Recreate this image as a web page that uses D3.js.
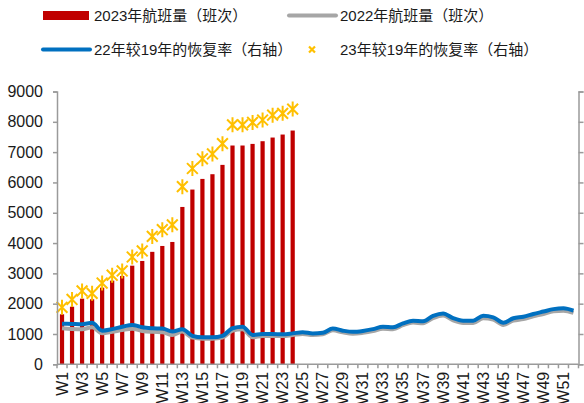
<!DOCTYPE html>
<html>
<head>
<meta charset="utf-8">
<script src="https://cdn.jsdelivr.net/npm/d3@7/dist/d3.min.js"></script>
<style>
	body { margin: 0; background: #fff; }
	svg { display: block; font-family: "Liberation Sans", Arial, "Noto Sans CJK SC", sans-serif; }
</style>
</head>
<body>
<svg id="chart" width="584" height="403"></svg>
<script>
// week labels W1..W52
var weeks = ["W1","W2","W3","W4","W5","W6","W7","W8","W9","W10","W11","W12","W13","W14","W15","W16","W17","W18","W19","W20",
	"W21","W22","W23","W24","W25","W26","W27","W28","W29","W30","W31","W32","W33","W34","W35","W36","W37","W38","W39","W40",
	"W41","W42","W43","W44","W45","W46","W47","W48","W49","W50","W51","W52"];

// 2023年航班量（班次）, W1..W24
var flights2023 = [1650, 1900, 2165, 2145, 2528, 2760, 2914, 3254, 3409, 3710, 3904, 4036, 5191, 5765, 6116, 6271,
	6579, 7218, 7218, 7271, 7360, 7481, 7580, 7712];

// 2022年航班量（班次）, W1..W52
var flights2022 = [1188, 1165, 1155, 1221, 1023, 1070, 1130, 1175, 1100, 1070, 1060, 967, 1080, 879, 846, 846,
	880, 1110, 1160, 891, 934, 934, 934, 967, 1000, 967, 990, 1120, 1055, 1010, 1040, 1095, 1175, 1160, 1290, 1375,
	1355, 1525, 1610, 1450, 1365, 1365, 1520, 1475, 1300, 1440, 1495, 1585, 1660, 1750, 1770, 1695];

// 22年较19年的恢复率（右轴, %）, W1..W52
var recovery22 = [6.7, 6.65, 6.6, 6.85, 5.55, 5.8, 6.2, 6.5, 6.1, 5.95, 5.9, 5.4, 5.8, 4.7, 4.45, 4.45,
	4.7, 5.95, 6.2, 4.85, 5.0, 5.0, 4.95, 5.1, 5.3, 5.1, 5.2, 5.9, 5.55, 5.35, 5.5, 5.8, 6.2, 6.1, 6.75, 7.2,
	7.1, 8.0, 8.4, 7.6, 7.2, 7.2, 8.0, 7.75, 6.85, 7.6, 7.85, 8.3, 8.7, 9.1, 9.25, 8.85];

// 23年较19年的恢复率（右轴, %）, W1..W24
var recovery23 = [9.4, 10.7, 12.1, 11.7, 13.4, 14.7, 15.4, 17.7, 18.7, 21.1, 22.2, 23.0, 29.3, 32.3, 33.9, 34.7,
	36.4, 39.5, 39.5, 39.9, 40.3, 41.1, 41.4, 42.1];

var leftTicks = [0, 1000, 2000, 3000, 4000, 5000, 6000, 7000, 8000, 9000];
var rightTicks = [0, 5, 10, 15, 20, 25, 30, 35, 40, 45];

var legendItems = [
	{name: "2023年航班量（班次）", type: "bar"},
	{name: "2022年航班量（班次）", type: "gray"},
	{name: "22年较19年的恢复率（右轴）", type: "blue"},
	{name: "23年较19年的恢复率（右轴）", type: "star"}
];

var colors = {bar: "#C00000", gray: "#A6A6A6", blue: "#0070C0", star: "#FFC000", axis: "#9a9a9a", text: "#1a1a1a"};

var svg = d3.select("#chart");
var plot = {left: 57, right: 578.5, top: 91.5, bottom: 364.3};

var x = d3.scaleBand().domain(weeks).range([plot.left, plot.right]).paddingInner(0).paddingOuter(0);
var yL = d3.scaleLinear().domain([0, 9000]).range([plot.bottom, plot.top]);
var yR = d3.scaleLinear().domain([0, 45]).range([plot.bottom, plot.top]);

/**
 * draws an asterisk marker (x plus vertical bar) centred on cx, cy
 */
function starPath(cx, cy, r) {
	var d = r * 0.72;
	return "M" + (cx - d) + "," + (cy - d) + "L" + (cx + d) + "," + (cy + d)
		+ "M" + (cx - d) + "," + (cy + d) + "L" + (cx + d) + "," + (cy - d)
		+ "M" + cx + "," + (cy - r) + "L" + cx + "," + (cy + r);
}

// small x, used for the legend
function crossPath(cx, cy, r) {
	return "M" + (cx - r) + "," + (cy - r) + "L" + (cx + r) + "," + (cy + r)
		+ "M" + (cx - r) + "," + (cy + r) + "L" + (cx + r) + "," + (cy - r);
}

// bars 2023
var barW = x.bandwidth() * 0.42;
svg.append("g").selectAll("rect")
	.data(flights2023)
	.enter().append("rect")
	.attr("x", function(d, i) { return x(weeks[i]) + (x.bandwidth() - barW) / 2; })
	.attr("y", function(d) { return yL(d); })
	.attr("width", barW)
	.attr("height", function(d) { return yL(0) - yL(d); })
	.style("fill", colors.bar);

// lines
var cx = function(i) { return x(weeks[i]) + x.bandwidth() / 2; };

var line2022 = d3.line()
	.x(function(d, i) { return cx(i); })
	.y(function(d) { return yL(d); })
	.curve(d3.curveMonotoneX);

var line22r = d3.line()
	.x(function(d, i) { return cx(i); })
	.y(function(d) { return yR(d); })
	.curve(d3.curveMonotoneX);

svg.append("path")
	.attr("d", line2022(flights2022))
	.style("fill", "none")
	.style("stroke", colors.gray)
	.style("stroke-width", 4)
	.style("stroke-linejoin", "round");

svg.append("path")
	.attr("d", line22r(recovery22))
	.style("fill", "none")
	.style("stroke", colors.blue)
	.style("stroke-width", 4)
	.style("stroke-linejoin", "round");

// 23 vs 19 markers
svg.append("g").selectAll("path")
	.data(recovery23)
	.enter().append("path")
	.attr("d", function(d, i) { return starPath(cx(i), yR(d), 7.5); })
	.style("fill", "none")
	.style("stroke", colors.star)
	.style("stroke-width", 2);

// left axis
var gLeft = svg.append("g")
	.attr("transform", "translate(" + plot.left + ",0)")
	.call(d3.axisLeft(yL).tickValues(leftTicks).tickSize(4).tickPadding(10).tickFormat(d3.format("d")));

// right axis, its labels fall outside the picture
var gRight = svg.append("g")
	.attr("transform", "translate(" + plot.right + ",0)")
	.call(d3.axisRight(yR).tickValues(rightTicks).tickSize(5).tickFormat(""));

// bottom axis, ticks on category boundaries
var gBottom = svg.append("g")
	.attr("transform", "translate(0," + plot.bottom + ")");
gBottom.append("line")
	.attr("x1", plot.left).attr("x2", plot.right)
	.attr("y1", 0).attr("y2", 0);
gBottom.selectAll(".tk")
	.data(d3.range(weeks.length + 1))
	.enter().append("line")
	.attr("class", "tk")
	.attr("x1", function(i) { return plot.left + i * x.step(); })
	.attr("x2", function(i) { return plot.left + i * x.step(); })
	.attr("y1", 0).attr("y2", 4);
gBottom.selectAll("text")
	.data(weeks.filter(function(d, i) { return i % 2 === 0; }))
	.enter().append("text")
	.attr("transform", function(d) { return "translate(" + (x(d) + x.bandwidth() / 2) + ",7.5) rotate(-90)"; })
	.attr("text-anchor", "end")
	.attr("dominant-baseline", "central")
	.style("font-size", "16px")
	.style("fill", colors.text)
	.text(function(d) { return d; });

[gLeft, gRight].forEach(function(g) {
	g.select(".domain").style("stroke", colors.axis).style("stroke-width", 1.5);
	g.selectAll(".tick line").style("stroke", colors.axis).style("stroke-width", 1.5);
	g.selectAll(".tick text").style("font-size", "16px").style("fill", colors.text)
		.style("font-family", "'Liberation Sans', Arial, sans-serif");
});
gBottom.selectAll("line").style("stroke", colors.axis).style("stroke-width", 1.5);

// legend
var legendPos = [{x: 43, y: 15.5}, {x: 289, y: 15.5}, {x: 43, y: 49.5}, {x: 289, y: 49.5}];
var legend = svg.append("g").selectAll("g")
	.data(legendItems)
	.enter().append("g")
	.attr("transform", function(d, i) { return "translate(" + legendPos[i].x + "," + legendPos[i].y + ")"; });

legend.each(function(d) {
	var g = d3.select(this);
	if (d.type === "bar") {
		g.append("rect").attr("x", 0).attr("y", -4.5).attr("width", 46).attr("height", 9).style("fill", colors.bar);
	} else if (d.type === "star") {
		g.append("path").attr("d", crossPath(23, 0, 3)).style("fill", "none")
			.style("stroke", colors.star).style("stroke-width", 2.2);
	} else {
		g.append("line").attr("x1", 0).attr("x2", 47).attr("y1", 0).attr("y2", 0)
			.style("stroke", d.type === "gray" ? colors.gray : colors.blue)
			.style("stroke-width", 4).style("stroke-linecap", "round");
	}
	g.append("text")
		.attr("x", 51)
		.attr("y", 0)
		.attr("dominant-baseline", "central")
		.style("font-size", "15px")
		.style("fill", colors.text)
		.text(d.name);
});
</script>
</body>
</html>
